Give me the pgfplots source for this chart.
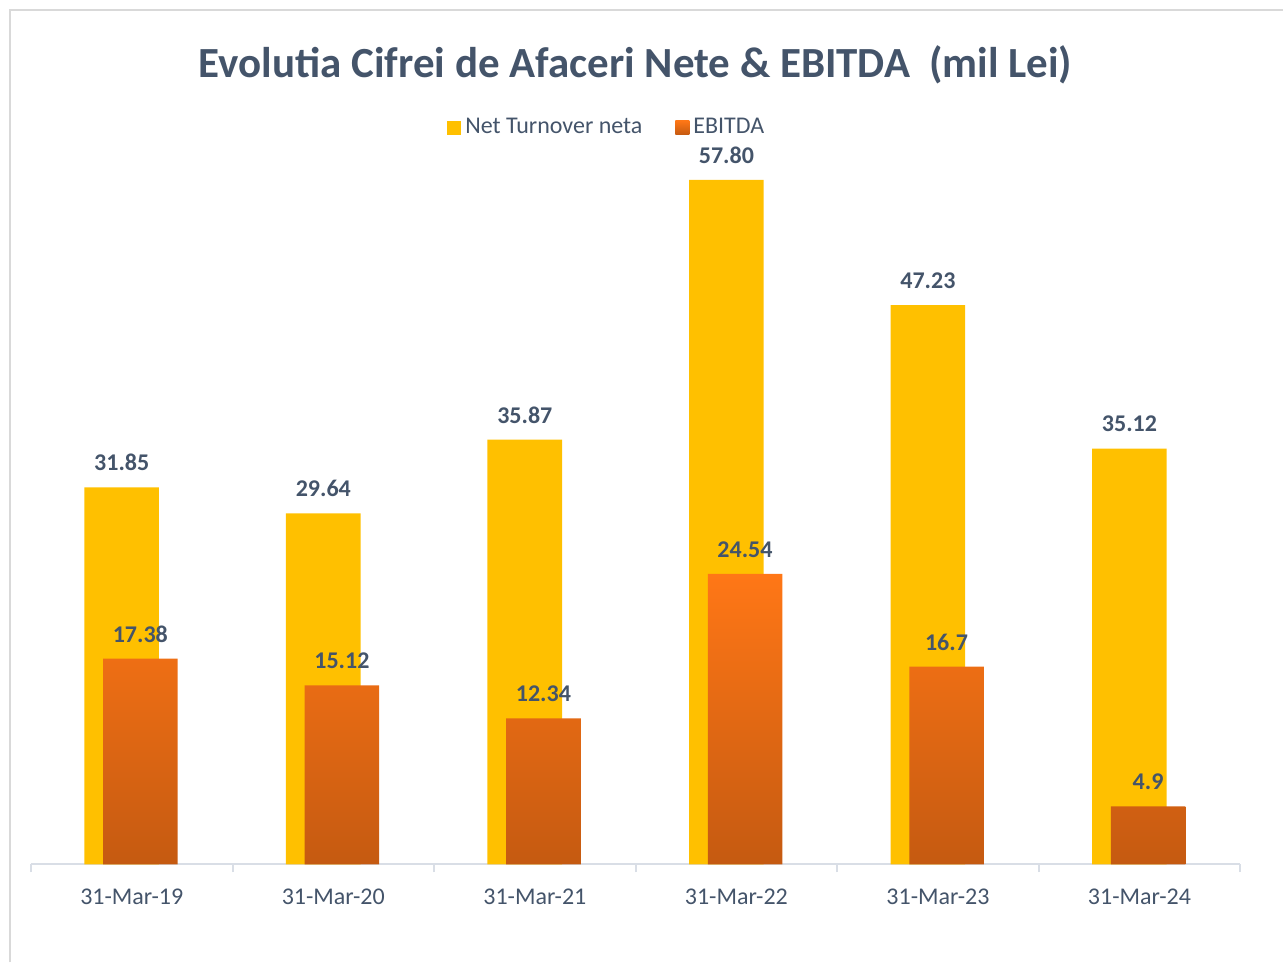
\documentclass[border=0pt]{standalone}
\usepackage{fontspec}
\setmainfont{Carlito}
\usepackage{pgfplots}
\pgfplotsset{compat=1.18}
\definecolor{tx}{HTML}{44546A}
\definecolor{yel}{HTML}{FFC000}
\definecolor{orT}{HTML}{FF7716}
\definecolor{orM}{HTML}{EC6C14}
\definecolor{orB}{HTML}{C55A11}
\definecolor{axc}{HTML}{D9DEE6}
\definecolor{frm}{HTML}{D9D9D9}
\pgfplotsset{sqlegend/.style={legend image code/.code={\path[##1,draw=none] (0pt,-3.5pt) rectangle (7pt,3.5pt);}}}
\begin{document}
\begin{tikzpicture}
\begin{axis}[
  scale only axis, width=605pt, height=355.5pt,
  xmin=-0.5, xmax=5.5, ymin=0, ymax=60,
  axis x line*=bottom, axis y line=none,
  x axis line style={draw=axc, line width=1pt},
  xtick={-0.5,0.5,...,5.5}, xticklabels={},
  tick align=outside, major tick length=4pt,
  x tick style={draw=axc, line width=1pt},
  extra x ticks={0,1,2,3,4,5},
  extra x tick labels={31-Mar-19,31-Mar-20,31-Mar-21,31-Mar-22,31-Mar-23,31-Mar-24},
  extra x tick style={major tick length=0pt, tick style={draw=none}},
  xticklabel style={font=\fontsize{12}{14}\selectfont, text=tx, yshift=-8.5pt},
  legend style={draw=none, fill=none, at={(0.477,1.037)}, anchor=center, legend columns=2,
    font=\fontsize{12}{14}\selectfont, text=tx, /tikz/every even column/.append style={column sep=14.5pt}},
  clip=false,
]
\addplot[ybar, sqlegend, bar width=0.37, bar shift=-0.05, draw=none, fill=yel,
  nodes near coords, point meta=explicit symbolic,
  nodes near coords style={font=\bfseries\fontsize{12}{14}\selectfont, text=tx, anchor=south, inner sep=0pt, yshift=8pt, xshift=-5pt}]
  coordinates {(0,31.85) [31.85] (1,29.64) [29.64] (2,35.87) [35.87] (3,57.80) [57.80] (4,47.23) [47.23] (5,35.12) [35.12]};
\addlegendentry{Net Turnover neta}
\addplot[ybar, sqlegend, bar width=0.37, bar shift=0.043, draw=none, top color=orT, middle color=orM, bottom color=orB,
  nodes near coords, point meta=explicit symbolic,
  nodes near coords style={font=\bfseries\fontsize{12}{14}\selectfont, text=tx, anchor=south, inner sep=0pt, yshift=8pt, xshift=4.3pt}]
  coordinates {(0,17.38) [17.38] (1,15.12) [15.12] (2,12.34) [12.34] (3,24.54) [24.54] (4,16.7) [16.7] (5,4.9) [4.9]};
\addlegendentry{EBITDA}
\end{axis}
\node[font=\bfseries\fontsize{21.5}{26}\selectfont, text=tx] at (302.5pt,400pt) {Evolutia Cifrei de Afaceri Nete \& EBITDA~ (mil Lei)};
\draw[frm, line width=0.8pt] (-10.5pt,-49pt) -- (-10.5pt,427.5pt) -- (626.5pt,427.5pt);
\path[use as bounding box] (-15.5pt,-49pt) rectangle (626.5pt,432.5pt);
\end{tikzpicture}
\end{document}
